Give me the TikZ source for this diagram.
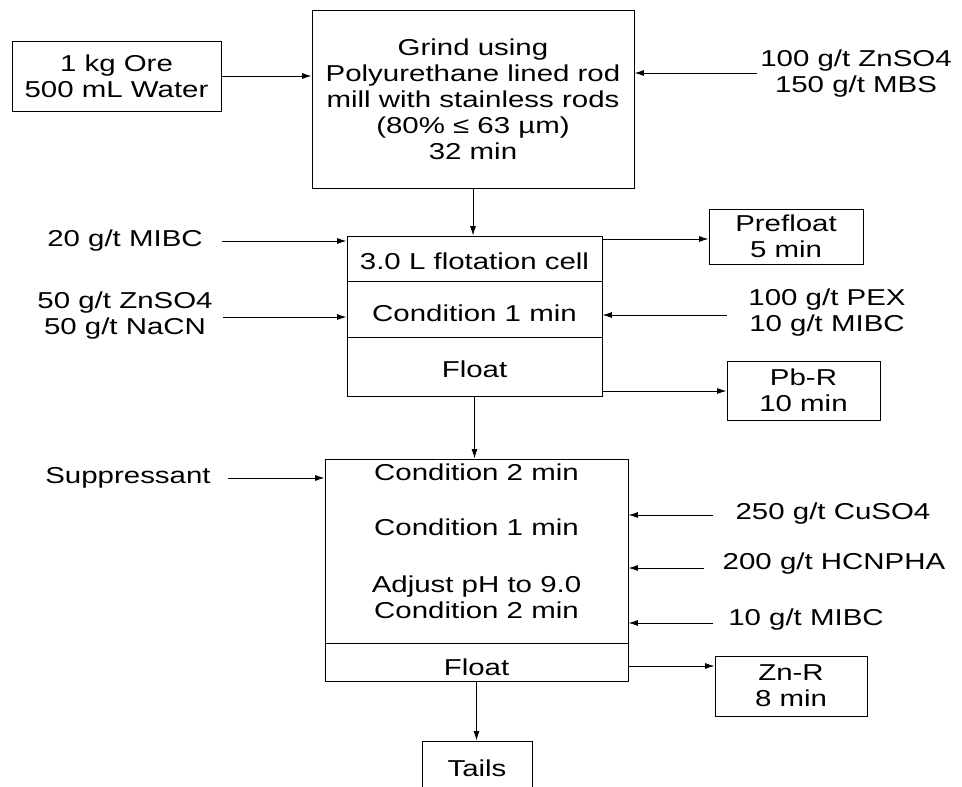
\documentclass[tikz,border=0pt]{standalone}
\usepackage{fontspec}
\setmainfont{Liberation Sans}[FakeStretch=1.28]
\usetikzlibrary{arrows.meta}
\tikzset{
  box/.style={draw, line width=0.9pt, inner sep=0pt, align=center},
  lbl/.style={inner sep=0pt, align=center},
  arr/.style={-{Latex[length=9.5pt,width=6pt]}, line width=0.9pt},
  every node/.append style={font=\fontsize{23}{26}\selectfont}
}
\begin{document}
\begin{tikzpicture}[x=1pt,y=-1pt]
\useasboundingbox (0,0) rectangle (962,787);
\clip (0,0) rectangle (962,787);
% grinding
\node[box, minimum width=209pt, minimum height=70pt] (ore) at (116.5,76) {1 kg Ore\\500 mL Water};
\node[box, minimum width=322pt, minimum height=178pt] (grind) at (473,99) {Grind using\\Polyurethane lined rod\\mill with stainless rods\\(80\% ≤ 63 µm)\\32 min};
\node[lbl] (zn1) at (856,74) {100 g/t ZnSO4\\150 g/t MBS};
\coordinate (zn1s) at (757,73);
\draw[arr] (ore.east) -- (ore.east -| grind.west);
\draw[arr] (zn1s) -- (zn1s -| grind.east);
% lead flotation cell
\node[box, minimum width=255pt, minimum height=45pt] (fc1) at (474.5,258.5) {};
\node[box, minimum width=255pt, minimum height=56pt] (fc2) at (474.5,309) {};
\node[box, minimum width=255pt, minimum height=59pt] (fc3) at (474.5,366.5) {};
\node[lbl] (fc1t) at (474.5,261) {3.0 L flotation cell};
\node[lbl] (fc2t) at (474.5,313) {Condition 1 min};
\node[lbl] (fc3t) at (474.5,369) {Float};
\draw[arr] (grind.south) -- (grind.south |- fc1.north);
\node[lbl] (mibc1) at (125,241) {20 g/t MIBC};
\coordinate (mibc1s) at (222,241);
\draw[arr] (mibc1s) -- (mibc1s -| fc1.west);
\node[lbl] (zn2) at (125,316) {50 g/t ZnSO4\\50 g/t NaCN};
\coordinate (zn2s) at (223,317);
\draw[arr] (zn2s) -- (zn2s -| fc2.west);
\node[box, minimum width=154pt, minimum height=55pt] (pre) at (786,236.5) {Prefloat\\5 min};
\coordinate (pres) at (602,239);
\draw[arr] (pres) -- (pres -| pre.west);
\node[lbl] (pex) at (827,313) {100 g/t PEX\\10 g/t MIBC};
\coordinate (pexs) at (727,315);
\draw[arr] (pexs) -- (pexs -| fc2.east);
\node[box, minimum width=153pt, minimum height=59pt] (pbr) at (803.5,390.5) {Pb-R\\10 min};
\coordinate (pbrs) at (602,391);
\draw[arr] (pbrs) -- (pbrs -| pbr.west);
% zinc flotation
\node[box, minimum width=303pt, minimum height=184pt] (b2) at (476.5,551) {};
\node[box, minimum width=303pt, minimum height=38pt] (b2f) at (476.5,662) {};
\node[lbl] (c2a) at (476.5,472) {Condition 2 min};
\node[lbl] (c1) at (476.5,527) {Condition 1 min};
\node[lbl] (adj) at (476.5,597) {Adjust pH to 9.0\\Condition 2 min};
\node[lbl] (fl2) at (476.5,667) {Float};
\draw[arr] (fc3.south) -- (fc3.south |- b2.north);
\node[lbl] (sup) at (128,478) {Suppressant};
\coordinate (sups) at (228,478);
\draw[arr] (sups) -- (sups -| b2.west);
\node[lbl] (cu) at (833,514) {250 g/t CuSO4};
\coordinate (cus) at (713,515);
\draw[arr] (cus) -- (cus -| b2.east);
\node[lbl] (hc) at (834,564) {200 g/t HCNPHA};
\coordinate (hcs) at (704,568);
\draw[arr] (hcs) -- (hcs -| b2.east);
\node[lbl] (mibc2) at (806,620) {10 g/t MIBC};
\coordinate (mibc2s) at (713,623);
\draw[arr] (mibc2s) -- (mibc2s -| b2.east);
\node[box, minimum width=152pt, minimum height=60pt] (znr) at (791,686) {Zn-R\\8 min};
\coordinate (znrs) at (628,666);
\draw[arr] (znrs) -- (znrs -| znr.west);
\node[box, minimum width=110pt, minimum height=54pt] (tails) at (477,768) {Tails};
\draw[arr] (b2f.south) -- (b2f.south |- tails.north);
\end{tikzpicture}
\end{document}
